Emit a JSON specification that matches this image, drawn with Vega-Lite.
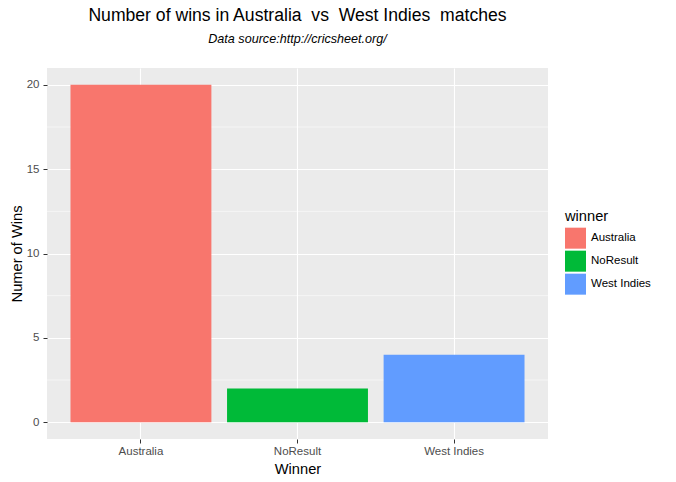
{
  "$schema": "https://vega.github.io/schema/vega-lite/v6.json",
  "autosize": "none",
  "width": 501,
  "height": 371,
  "padding": {"left": 47, "top": 68, "right": 128, "bottom": 43},
  "background": "white",
  "title": {
    "text": "Number of wins in Australia \u00a0vs \u00a0West Indies \u00a0matches",
    "subtitle": "Data source:http://cricsheet.org/",
    "anchor": "middle",
    "font": "Liberation Sans",
    "fontSize": 17.6,
    "fontWeight": "normal",
    "color": "black",
    "subtitleFont": "Liberation Sans",
    "subtitleFontSize": 12.6,
    "subtitleFontStyle": "italic",
    "subtitleColor": "black",
    "subtitlePadding": 9,
    "offset": 22
  },
  "config": {
    "view": {"fill": "#EBEBEB", "stroke": null},
    "font": "Liberation Sans",
    "axis": {
      "domain": false,
      "gridColor": "white",
      "gridWidth": 1.1,
      "tickColor": "#333333",
      "tickSize": 4,
      "labelColor": "#4D4D4D",
      "labelFontSize": 11.5,
      "labelFont": "Liberation Sans",
      "titleFont": "Liberation Sans",
      "titleFontSize": 14.67,
      "titleFontWeight": "normal",
      "titleColor": "black"
    }
  },
  "layer": [
    {
      "data": {"values": [{"m": 2.5}, {"m": 7.5}, {"m": 12.5}, {"m": 17.5}]},
      "mark": {"type": "rule", "color": "white", "strokeWidth": 0.55},
      "encoding": {
        "y": {"field": "m", "type": "quantitative", "scale": {"domain": [-1, 21], "nice": false, "zero": false},
          "axis": {"title": "Numer of Wins", "values": [0, 5, 10, 15, 20], "grid": true, "labelPadding": 4, "titlePadding": 2}}
      }
    },
    {
      "data": {"values": [
        {"winner": "Australia", "wins": 20},
        {"winner": "NoResult", "wins": 2},
        {"winner": "West Indies", "wins": 4}
      ]},
      "mark": {"type": "bar"},
      "encoding": {
        "x": {
          "field": "winner", "type": "nominal",
          "scale": {"paddingInner": 0.1, "paddingOuter": 0.15},
          "axis": {"title": "Winner", "labelAngle": 0, "bandPosition": 0.5, "grid": true, "labelPadding": 2.5, "titlePadding": 4}
        },
        "y": {
          "field": "wins", "type": "quantitative",
          "scale": {"domain": [-1, 21], "nice": false, "zero": false},
          "axis": {"title": "Numer of Wins", "values": [0, 5, 10, 15, 20], "grid": true, "labelPadding": 4, "titlePadding": 2}
        },
        "color": {
          "field": "winner", "type": "nominal",
          "scale": {"range": ["#F8766D", "#00BA38", "#619CFF"]},
          "legend": {
            "title": "winner",
            "orient": "none",
            "legendX": 518,
            "legendY": 141,
            "titleFontSize": 14.67,
            "titleFontWeight": "normal",
            "titleColor": "black",
            "titlePadding": 4,
            "labelFontSize": 11.5,
            "labelColor": "black",
            "symbolType": "square",
            "symbolSize": 441,
            "symbolStrokeWidth": 0,
            "symbolOpacity": 1,
            "rowPadding": 2,
            "labelOffset": 5
          }
        }
      }
    }
  ]
}
